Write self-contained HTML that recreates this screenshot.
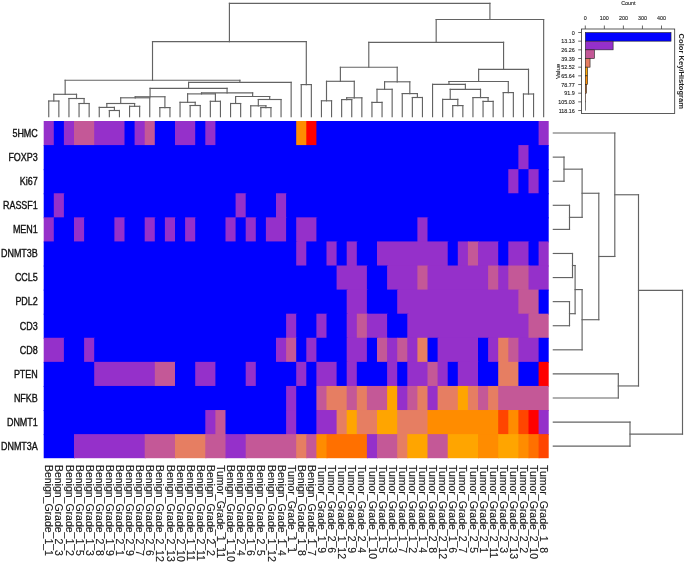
<!DOCTYPE html>
<html><head><meta charset="utf-8"><title>Heatmap</title>
<style>
html,body{margin:0;padding:0;background:#fff;}
body{width:685px;height:563px;overflow:hidden;}
svg{display:block;}
text{font-family:"Liberation Sans",Arial,sans-serif;}
</style></head><body>
<svg width="685" height="563" viewBox="0 0 685 563">
<g shape-rendering="auto">
<rect x="43.7" y="121" width="11.1" height="25.09" fill="#9530CA"/>
<rect x="53.8" y="121" width="11.1" height="25.09" fill="#0000FF"/>
<rect x="63.9" y="121" width="11.1" height="25.09" fill="#9530CA"/>
<rect x="74" y="121" width="21.2" height="25.09" fill="#C45897"/>
<rect x="94.2" y="121" width="31.3" height="25.09" fill="#9530CA"/>
<rect x="124.5" y="121" width="11.1" height="25.09" fill="#0000FF"/>
<rect x="134.6" y="121" width="11.1" height="25.09" fill="#9530CA"/>
<rect x="144.7" y="121" width="11.1" height="25.09" fill="#C45897"/>
<rect x="154.8" y="121" width="21.2" height="25.09" fill="#0000FF"/>
<rect x="175" y="121" width="21.2" height="25.09" fill="#9530CA"/>
<rect x="195.2" y="121" width="11.1" height="25.09" fill="#0000FF"/>
<rect x="205.3" y="121" width="11.1" height="25.09" fill="#9530CA"/>
<rect x="215.4" y="121" width="81.8" height="25.09" fill="#0000FF"/>
<rect x="296.2" y="121" width="11.1" height="25.09" fill="#FF8C00"/>
<rect x="306.3" y="121" width="11.1" height="25.09" fill="#FF0000"/>
<rect x="316.4" y="121" width="223.2" height="25.09" fill="#0000FF"/>
<rect x="538.6" y="121" width="10.1" height="25.09" fill="#9530CA"/>
<rect x="43.7" y="145.09" width="475.7" height="25.09" fill="#0000FF"/>
<rect x="518.4" y="145.09" width="11.1" height="25.09" fill="#9530CA"/>
<rect x="528.5" y="145.09" width="20.2" height="25.09" fill="#0000FF"/>
<rect x="43.7" y="169.17" width="465.6" height="25.09" fill="#0000FF"/>
<rect x="508.3" y="169.17" width="11.1" height="25.09" fill="#9530CA"/>
<rect x="518.4" y="169.17" width="11.1" height="25.09" fill="#0000FF"/>
<rect x="528.5" y="169.17" width="11.1" height="25.09" fill="#9530CA"/>
<rect x="538.6" y="169.17" width="10.1" height="25.09" fill="#0000FF"/>
<rect x="43.7" y="193.26" width="11.1" height="25.09" fill="#0000FF"/>
<rect x="53.8" y="193.26" width="11.1" height="25.09" fill="#9530CA"/>
<rect x="63.9" y="193.26" width="172.7" height="25.09" fill="#0000FF"/>
<rect x="235.6" y="193.26" width="11.1" height="25.09" fill="#9530CA"/>
<rect x="245.7" y="193.26" width="31.3" height="25.09" fill="#0000FF"/>
<rect x="276" y="193.26" width="11.1" height="25.09" fill="#9530CA"/>
<rect x="286.1" y="193.26" width="262.6" height="25.09" fill="#0000FF"/>
<rect x="43.7" y="217.34" width="11.1" height="25.09" fill="#9530CA"/>
<rect x="53.8" y="217.34" width="21.2" height="25.09" fill="#0000FF"/>
<rect x="74" y="217.34" width="11.1" height="25.09" fill="#9530CA"/>
<rect x="84.1" y="217.34" width="31.3" height="25.09" fill="#0000FF"/>
<rect x="114.4" y="217.34" width="11.1" height="25.09" fill="#9530CA"/>
<rect x="124.5" y="217.34" width="21.2" height="25.09" fill="#0000FF"/>
<rect x="144.7" y="217.34" width="11.1" height="25.09" fill="#9530CA"/>
<rect x="154.8" y="217.34" width="11.1" height="25.09" fill="#0000FF"/>
<rect x="164.9" y="217.34" width="11.1" height="25.09" fill="#9530CA"/>
<rect x="175" y="217.34" width="11.1" height="25.09" fill="#0000FF"/>
<rect x="185.1" y="217.34" width="11.1" height="25.09" fill="#9530CA"/>
<rect x="195.2" y="217.34" width="31.3" height="25.09" fill="#0000FF"/>
<rect x="225.5" y="217.34" width="11.1" height="25.09" fill="#9530CA"/>
<rect x="235.6" y="217.34" width="11.1" height="25.09" fill="#0000FF"/>
<rect x="245.7" y="217.34" width="11.1" height="25.09" fill="#9530CA"/>
<rect x="255.8" y="217.34" width="11.1" height="25.09" fill="#0000FF"/>
<rect x="265.9" y="217.34" width="21.2" height="25.09" fill="#9530CA"/>
<rect x="286.1" y="217.34" width="11.1" height="25.09" fill="#0000FF"/>
<rect x="296.2" y="217.34" width="21.2" height="25.09" fill="#9530CA"/>
<rect x="316.4" y="217.34" width="102" height="25.09" fill="#0000FF"/>
<rect x="417.4" y="217.34" width="11.1" height="25.09" fill="#9530CA"/>
<rect x="427.5" y="217.34" width="121.2" height="25.09" fill="#0000FF"/>
<rect x="43.7" y="241.43" width="253.5" height="25.09" fill="#0000FF"/>
<rect x="296.2" y="241.43" width="11.1" height="25.09" fill="#9530CA"/>
<rect x="306.3" y="241.43" width="21.2" height="25.09" fill="#0000FF"/>
<rect x="326.5" y="241.43" width="11.1" height="25.09" fill="#9530CA"/>
<rect x="336.6" y="241.43" width="11.1" height="25.09" fill="#0000FF"/>
<rect x="346.7" y="241.43" width="11.1" height="25.09" fill="#9530CA"/>
<rect x="356.8" y="241.43" width="21.2" height="25.09" fill="#0000FF"/>
<rect x="377" y="241.43" width="71.7" height="25.09" fill="#9530CA"/>
<rect x="447.7" y="241.43" width="11.1" height="25.09" fill="#0000FF"/>
<rect x="457.8" y="241.43" width="11.1" height="25.09" fill="#9530CA"/>
<rect x="467.9" y="241.43" width="11.1" height="25.09" fill="#C45897"/>
<rect x="478" y="241.43" width="21.2" height="25.09" fill="#9530CA"/>
<rect x="498.2" y="241.43" width="11.1" height="25.09" fill="#0000FF"/>
<rect x="508.3" y="241.43" width="21.2" height="25.09" fill="#9530CA"/>
<rect x="528.5" y="241.43" width="11.1" height="25.09" fill="#0000FF"/>
<rect x="538.6" y="241.43" width="10.1" height="25.09" fill="#9530CA"/>
<rect x="43.7" y="265.52" width="293.9" height="25.09" fill="#0000FF"/>
<rect x="336.6" y="265.52" width="31.3" height="25.09" fill="#9530CA"/>
<rect x="366.9" y="265.52" width="21.2" height="25.09" fill="#0000FF"/>
<rect x="387.1" y="265.52" width="31.3" height="25.09" fill="#9530CA"/>
<rect x="417.4" y="265.52" width="11.1" height="25.09" fill="#C45897"/>
<rect x="427.5" y="265.52" width="61.6" height="25.09" fill="#9530CA"/>
<rect x="488.1" y="265.52" width="11.1" height="25.09" fill="#C45897"/>
<rect x="498.2" y="265.52" width="11.1" height="25.09" fill="#9530CA"/>
<rect x="508.3" y="265.52" width="21.2" height="25.09" fill="#C45897"/>
<rect x="528.5" y="265.52" width="20.2" height="25.09" fill="#9530CA"/>
<rect x="43.7" y="289.6" width="304" height="25.09" fill="#0000FF"/>
<rect x="346.7" y="289.6" width="21.2" height="25.09" fill="#9530CA"/>
<rect x="366.9" y="289.6" width="31.3" height="25.09" fill="#0000FF"/>
<rect x="397.2" y="289.6" width="122.2" height="25.09" fill="#9530CA"/>
<rect x="518.4" y="289.6" width="21.2" height="25.09" fill="#C45897"/>
<rect x="538.6" y="289.6" width="10.1" height="25.09" fill="#0000FF"/>
<rect x="43.7" y="313.69" width="243.4" height="25.09" fill="#0000FF"/>
<rect x="286.1" y="313.69" width="11.1" height="25.09" fill="#9530CA"/>
<rect x="296.2" y="313.69" width="21.2" height="25.09" fill="#0000FF"/>
<rect x="316.4" y="313.69" width="11.1" height="25.09" fill="#9530CA"/>
<rect x="326.5" y="313.69" width="21.2" height="25.09" fill="#0000FF"/>
<rect x="346.7" y="313.69" width="11.1" height="25.09" fill="#9530CA"/>
<rect x="356.8" y="313.69" width="11.1" height="25.09" fill="#C45897"/>
<rect x="366.9" y="313.69" width="21.2" height="25.09" fill="#9530CA"/>
<rect x="387.1" y="313.69" width="21.2" height="25.09" fill="#0000FF"/>
<rect x="407.3" y="313.69" width="122.2" height="25.09" fill="#9530CA"/>
<rect x="528.5" y="313.69" width="20.2" height="25.09" fill="#C45897"/>
<rect x="43.7" y="337.77" width="21.2" height="25.09" fill="#9530CA"/>
<rect x="63.9" y="337.77" width="21.2" height="25.09" fill="#0000FF"/>
<rect x="84.1" y="337.77" width="11.1" height="25.09" fill="#9530CA"/>
<rect x="94.2" y="337.77" width="182.8" height="25.09" fill="#0000FF"/>
<rect x="276" y="337.77" width="11.1" height="25.09" fill="#9530CA"/>
<rect x="286.1" y="337.77" width="11.1" height="25.09" fill="#C45897"/>
<rect x="296.2" y="337.77" width="11.1" height="25.09" fill="#0000FF"/>
<rect x="306.3" y="337.77" width="11.1" height="25.09" fill="#9530CA"/>
<rect x="316.4" y="337.77" width="31.3" height="25.09" fill="#0000FF"/>
<rect x="346.7" y="337.77" width="21.2" height="25.09" fill="#9530CA"/>
<rect x="366.9" y="337.77" width="11.1" height="25.09" fill="#0000FF"/>
<rect x="377" y="337.77" width="11.1" height="25.09" fill="#C45897"/>
<rect x="387.1" y="337.77" width="11.1" height="25.09" fill="#9530CA"/>
<rect x="397.2" y="337.77" width="11.1" height="25.09" fill="#C45897"/>
<rect x="407.3" y="337.77" width="11.1" height="25.09" fill="#9530CA"/>
<rect x="417.4" y="337.77" width="11.1" height="25.09" fill="#E67E62"/>
<rect x="427.5" y="337.77" width="11.1" height="25.09" fill="#0000FF"/>
<rect x="437.6" y="337.77" width="41.4" height="25.09" fill="#9530CA"/>
<rect x="478" y="337.77" width="11.1" height="25.09" fill="#0000FF"/>
<rect x="488.1" y="337.77" width="11.1" height="25.09" fill="#9530CA"/>
<rect x="498.2" y="337.77" width="11.1" height="25.09" fill="#E67E62"/>
<rect x="508.3" y="337.77" width="11.1" height="25.09" fill="#C45897"/>
<rect x="518.4" y="337.77" width="21.2" height="25.09" fill="#9530CA"/>
<rect x="538.6" y="337.77" width="10.1" height="25.09" fill="#0000FF"/>
<rect x="43.7" y="361.86" width="51.5" height="25.09" fill="#0000FF"/>
<rect x="94.2" y="361.86" width="61.6" height="25.09" fill="#9530CA"/>
<rect x="154.8" y="361.86" width="21.2" height="25.09" fill="#C45897"/>
<rect x="175" y="361.86" width="21.2" height="25.09" fill="#0000FF"/>
<rect x="195.2" y="361.86" width="21.2" height="25.09" fill="#9530CA"/>
<rect x="215.4" y="361.86" width="31.3" height="25.09" fill="#0000FF"/>
<rect x="245.7" y="361.86" width="11.1" height="25.09" fill="#9530CA"/>
<rect x="255.8" y="361.86" width="41.4" height="25.09" fill="#0000FF"/>
<rect x="296.2" y="361.86" width="11.1" height="25.09" fill="#9530CA"/>
<rect x="306.3" y="361.86" width="11.1" height="25.09" fill="#0000FF"/>
<rect x="316.4" y="361.86" width="21.2" height="25.09" fill="#9530CA"/>
<rect x="336.6" y="361.86" width="11.1" height="25.09" fill="#0000FF"/>
<rect x="346.7" y="361.86" width="11.1" height="25.09" fill="#9530CA"/>
<rect x="356.8" y="361.86" width="31.3" height="25.09" fill="#0000FF"/>
<rect x="387.1" y="361.86" width="11.1" height="25.09" fill="#9530CA"/>
<rect x="397.2" y="361.86" width="11.1" height="25.09" fill="#0000FF"/>
<rect x="407.3" y="361.86" width="21.2" height="25.09" fill="#9530CA"/>
<rect x="427.5" y="361.86" width="11.1" height="25.09" fill="#C45897"/>
<rect x="437.6" y="361.86" width="11.1" height="25.09" fill="#9530CA"/>
<rect x="447.7" y="361.86" width="11.1" height="25.09" fill="#0000FF"/>
<rect x="457.8" y="361.86" width="21.2" height="25.09" fill="#9530CA"/>
<rect x="478" y="361.86" width="21.2" height="25.09" fill="#0000FF"/>
<rect x="498.2" y="361.86" width="21.2" height="25.09" fill="#E67E62"/>
<rect x="518.4" y="361.86" width="21.2" height="25.09" fill="#0000FF"/>
<rect x="538.6" y="361.86" width="10.1" height="25.09" fill="#FF0000"/>
<rect x="43.7" y="385.95" width="243.4" height="25.09" fill="#0000FF"/>
<rect x="286.1" y="385.95" width="11.1" height="25.09" fill="#9530CA"/>
<rect x="296.2" y="385.95" width="21.2" height="25.09" fill="#0000FF"/>
<rect x="316.4" y="385.95" width="11.1" height="25.09" fill="#C45897"/>
<rect x="326.5" y="385.95" width="21.2" height="25.09" fill="#E67E62"/>
<rect x="346.7" y="385.95" width="11.1" height="25.09" fill="#C45897"/>
<rect x="356.8" y="385.95" width="11.1" height="25.09" fill="#E67E62"/>
<rect x="366.9" y="385.95" width="21.2" height="25.09" fill="#C45897"/>
<rect x="387.1" y="385.95" width="11.1" height="25.09" fill="#FFA500"/>
<rect x="397.2" y="385.95" width="11.1" height="25.09" fill="#9530CA"/>
<rect x="407.3" y="385.95" width="11.1" height="25.09" fill="#C45897"/>
<rect x="417.4" y="385.95" width="11.1" height="25.09" fill="#E67E62"/>
<rect x="427.5" y="385.95" width="11.1" height="25.09" fill="#9530CA"/>
<rect x="437.6" y="385.95" width="21.2" height="25.09" fill="#E67E62"/>
<rect x="457.8" y="385.95" width="11.1" height="25.09" fill="#FFA500"/>
<rect x="467.9" y="385.95" width="11.1" height="25.09" fill="#E67E62"/>
<rect x="478" y="385.95" width="11.1" height="25.09" fill="#C45897"/>
<rect x="488.1" y="385.95" width="11.1" height="25.09" fill="#E67E62"/>
<rect x="498.2" y="385.95" width="50.5" height="25.09" fill="#C45897"/>
<rect x="43.7" y="410.03" width="162.6" height="25.09" fill="#0000FF"/>
<rect x="205.3" y="410.03" width="11.1" height="25.09" fill="#9530CA"/>
<rect x="215.4" y="410.03" width="11.1" height="25.09" fill="#C45897"/>
<rect x="225.5" y="410.03" width="61.6" height="25.09" fill="#0000FF"/>
<rect x="286.1" y="410.03" width="11.1" height="25.09" fill="#9530CA"/>
<rect x="296.2" y="410.03" width="21.2" height="25.09" fill="#0000FF"/>
<rect x="316.4" y="410.03" width="21.2" height="25.09" fill="#9530CA"/>
<rect x="336.6" y="410.03" width="11.1" height="25.09" fill="#E67E62"/>
<rect x="346.7" y="410.03" width="11.1" height="25.09" fill="#FFA500"/>
<rect x="356.8" y="410.03" width="21.2" height="25.09" fill="#E67E62"/>
<rect x="377" y="410.03" width="21.2" height="25.09" fill="#FFA500"/>
<rect x="397.2" y="410.03" width="31.3" height="25.09" fill="#E67E62"/>
<rect x="427.5" y="410.03" width="71.7" height="25.09" fill="#FF8C00"/>
<rect x="498.2" y="410.03" width="11.1" height="25.09" fill="#FF4500"/>
<rect x="508.3" y="410.03" width="11.1" height="25.09" fill="#FF8C00"/>
<rect x="518.4" y="410.03" width="11.1" height="25.09" fill="#FF4500"/>
<rect x="528.5" y="410.03" width="11.1" height="25.09" fill="#FF0000"/>
<rect x="538.6" y="410.03" width="10.1" height="25.09" fill="#9530CA"/>
<rect x="43.7" y="434.12" width="31.3" height="24.09" fill="#0000FF"/>
<rect x="74" y="434.12" width="71.7" height="24.09" fill="#9530CA"/>
<rect x="144.7" y="434.12" width="31.3" height="24.09" fill="#C45897"/>
<rect x="175" y="434.12" width="31.3" height="24.09" fill="#E67E62"/>
<rect x="205.3" y="434.12" width="21.2" height="24.09" fill="#C45897"/>
<rect x="225.5" y="434.12" width="21.2" height="24.09" fill="#9530CA"/>
<rect x="245.7" y="434.12" width="51.5" height="24.09" fill="#C45897"/>
<rect x="296.2" y="434.12" width="11.1" height="24.09" fill="#E67E62"/>
<rect x="306.3" y="434.12" width="11.1" height="24.09" fill="#C45897"/>
<rect x="316.4" y="434.12" width="11.1" height="24.09" fill="#FF8C00"/>
<rect x="326.5" y="434.12" width="41.4" height="24.09" fill="#FF7000"/>
<rect x="366.9" y="434.12" width="11.1" height="24.09" fill="#9530CA"/>
<rect x="377" y="434.12" width="21.2" height="24.09" fill="#C45897"/>
<rect x="397.2" y="434.12" width="11.1" height="24.09" fill="#E67E62"/>
<rect x="407.3" y="434.12" width="21.2" height="24.09" fill="#FFA500"/>
<rect x="427.5" y="434.12" width="21.2" height="24.09" fill="#C45897"/>
<rect x="447.7" y="434.12" width="31.3" height="24.09" fill="#FFA500"/>
<rect x="478" y="434.12" width="21.2" height="24.09" fill="#FF8C00"/>
<rect x="498.2" y="434.12" width="21.2" height="24.09" fill="#FFA500"/>
<rect x="518.4" y="434.12" width="11.1" height="24.09" fill="#FF8C00"/>
<rect x="528.5" y="434.12" width="11.1" height="24.09" fill="#FF7000"/>
<rect x="538.6" y="434.12" width="10.1" height="24.09" fill="#FF4500"/>
</g>
<g stroke="#636363" stroke-width="1.15" fill="none" stroke-linecap="square">
<line x1="48.75" y1="116.7" x2="48.75" y2="101"/>
<line x1="48.75" y1="101" x2="58.85" y2="101"/>
<line x1="58.85" y1="101" x2="58.85" y2="116.7"/>
<line x1="79.05" y1="116.7" x2="79.05" y2="103.5"/>
<line x1="79.05" y1="103.5" x2="89.15" y2="103.5"/>
<line x1="89.15" y1="103.5" x2="89.15" y2="116.7"/>
<line x1="68.95" y1="116.7" x2="68.95" y2="98.5"/>
<line x1="68.95" y1="98.5" x2="84.1" y2="98.5"/>
<line x1="84.1" y1="98.5" x2="84.1" y2="103.5"/>
<line x1="53.8" y1="101" x2="53.8" y2="94.3"/>
<line x1="53.8" y1="94.3" x2="76.53" y2="94.3"/>
<line x1="76.53" y1="94.3" x2="76.53" y2="98.5"/>
<line x1="109.35" y1="116.7" x2="109.35" y2="110.5"/>
<line x1="109.35" y1="110.5" x2="119.45" y2="110.5"/>
<line x1="119.45" y1="110.5" x2="119.45" y2="116.7"/>
<line x1="99.25" y1="116.7" x2="99.25" y2="107.4"/>
<line x1="99.25" y1="107.4" x2="114.4" y2="107.4"/>
<line x1="114.4" y1="107.4" x2="114.4" y2="110.5"/>
<line x1="129.55" y1="116.7" x2="129.55" y2="106.3"/>
<line x1="129.55" y1="106.3" x2="139.65" y2="106.3"/>
<line x1="139.65" y1="106.3" x2="139.65" y2="116.7"/>
<line x1="106.83" y1="107.4" x2="106.83" y2="103.5"/>
<line x1="106.83" y1="103.5" x2="134.6" y2="103.5"/>
<line x1="134.6" y1="103.5" x2="134.6" y2="106.3"/>
<line x1="120.71" y1="103.5" x2="120.71" y2="97.8"/>
<line x1="120.71" y1="97.8" x2="149.75" y2="97.8"/>
<line x1="149.75" y1="97.8" x2="149.75" y2="116.7"/>
<line x1="159.85" y1="116.7" x2="159.85" y2="107.6"/>
<line x1="159.85" y1="107.6" x2="169.95" y2="107.6"/>
<line x1="169.95" y1="107.6" x2="169.95" y2="116.7"/>
<line x1="135.23" y1="97.8" x2="135.23" y2="96.75"/>
<line x1="135.23" y1="96.75" x2="164.9" y2="96.75"/>
<line x1="164.9" y1="96.75" x2="164.9" y2="107.6"/>
<line x1="190.15" y1="116.7" x2="190.15" y2="105.5"/>
<line x1="190.15" y1="105.5" x2="200.25" y2="105.5"/>
<line x1="200.25" y1="105.5" x2="200.25" y2="116.7"/>
<line x1="180.05" y1="116.7" x2="180.05" y2="102.3"/>
<line x1="180.05" y1="102.3" x2="195.2" y2="102.3"/>
<line x1="195.2" y1="102.3" x2="195.2" y2="105.5"/>
<line x1="210.35" y1="116.7" x2="210.35" y2="101.3"/>
<line x1="210.35" y1="101.3" x2="220.45" y2="101.3"/>
<line x1="220.45" y1="101.3" x2="220.45" y2="116.7"/>
<line x1="187.62" y1="102.3" x2="187.62" y2="93.9"/>
<line x1="187.62" y1="93.9" x2="215.4" y2="93.9"/>
<line x1="215.4" y1="93.9" x2="215.4" y2="101.3"/>
<line x1="230.55" y1="116.7" x2="230.55" y2="103.5"/>
<line x1="230.55" y1="103.5" x2="240.65" y2="103.5"/>
<line x1="240.65" y1="103.5" x2="240.65" y2="116.7"/>
<line x1="260.85" y1="116.7" x2="260.85" y2="107.6"/>
<line x1="260.85" y1="107.6" x2="270.95" y2="107.6"/>
<line x1="270.95" y1="107.6" x2="270.95" y2="116.7"/>
<line x1="250.75" y1="116.7" x2="250.75" y2="105.8"/>
<line x1="250.75" y1="105.8" x2="265.9" y2="105.8"/>
<line x1="265.9" y1="105.8" x2="265.9" y2="107.6"/>
<line x1="258.32" y1="105.8" x2="258.32" y2="99.5"/>
<line x1="258.32" y1="99.5" x2="281.05" y2="99.5"/>
<line x1="281.05" y1="99.5" x2="281.05" y2="116.7"/>
<line x1="235.6" y1="103.5" x2="235.6" y2="96.5"/>
<line x1="235.6" y1="96.5" x2="269.69" y2="96.5"/>
<line x1="269.69" y1="96.5" x2="269.69" y2="99.5"/>
<line x1="201.51" y1="93.9" x2="201.51" y2="92.9"/>
<line x1="201.51" y1="92.9" x2="252.64" y2="92.9"/>
<line x1="252.64" y1="92.9" x2="252.64" y2="96.5"/>
<line x1="150.07" y1="96.75" x2="150.07" y2="88.3"/>
<line x1="150.07" y1="88.3" x2="227.08" y2="88.3"/>
<line x1="227.08" y1="88.3" x2="227.08" y2="92.9"/>
<line x1="188.57" y1="88.3" x2="188.57" y2="82.4"/>
<line x1="188.57" y1="82.4" x2="291.15" y2="82.4"/>
<line x1="291.15" y1="82.4" x2="291.15" y2="116.7"/>
<line x1="65.16" y1="94.3" x2="65.16" y2="80.25"/>
<line x1="65.16" y1="80.25" x2="239.86" y2="80.25"/>
<line x1="239.86" y1="80.25" x2="239.86" y2="82.4"/>
<line x1="301.25" y1="116.7" x2="301.25" y2="84.6"/>
<line x1="301.25" y1="84.6" x2="311.35" y2="84.6"/>
<line x1="311.35" y1="84.6" x2="311.35" y2="116.7"/>
<line x1="152.51" y1="80.25" x2="152.51" y2="41.6"/>
<line x1="152.51" y1="41.6" x2="306.3" y2="41.6"/>
<line x1="306.3" y1="41.6" x2="306.3" y2="84.6"/>
<line x1="321.45" y1="116.7" x2="321.45" y2="100.8"/>
<line x1="321.45" y1="100.8" x2="331.55" y2="100.8"/>
<line x1="331.55" y1="100.8" x2="331.55" y2="116.7"/>
<line x1="341.65" y1="116.7" x2="341.65" y2="99.6"/>
<line x1="341.65" y1="99.6" x2="351.75" y2="99.6"/>
<line x1="351.75" y1="99.6" x2="351.75" y2="116.7"/>
<line x1="346.7" y1="99.6" x2="346.7" y2="97.8"/>
<line x1="346.7" y1="97.8" x2="361.85" y2="97.8"/>
<line x1="361.85" y1="97.8" x2="361.85" y2="116.7"/>
<line x1="326.5" y1="100.8" x2="326.5" y2="81.3"/>
<line x1="326.5" y1="81.3" x2="354.27" y2="81.3"/>
<line x1="354.27" y1="81.3" x2="354.27" y2="97.8"/>
<line x1="371.95" y1="116.7" x2="371.95" y2="102.4"/>
<line x1="371.95" y1="102.4" x2="382.05" y2="102.4"/>
<line x1="382.05" y1="102.4" x2="382.05" y2="116.7"/>
<line x1="377" y1="102.4" x2="377" y2="89.3"/>
<line x1="377" y1="89.3" x2="392.15" y2="89.3"/>
<line x1="392.15" y1="89.3" x2="392.15" y2="116.7"/>
<line x1="412.35" y1="116.7" x2="412.35" y2="97.5"/>
<line x1="412.35" y1="97.5" x2="422.45" y2="97.5"/>
<line x1="422.45" y1="97.5" x2="422.45" y2="116.7"/>
<line x1="402.25" y1="116.7" x2="402.25" y2="93.6"/>
<line x1="402.25" y1="93.6" x2="417.4" y2="93.6"/>
<line x1="417.4" y1="93.6" x2="417.4" y2="97.5"/>
<line x1="384.57" y1="89.3" x2="384.57" y2="81.8"/>
<line x1="384.57" y1="81.8" x2="409.82" y2="81.8"/>
<line x1="409.82" y1="81.8" x2="409.82" y2="93.6"/>
<line x1="340.39" y1="81.3" x2="340.39" y2="67.2"/>
<line x1="340.39" y1="67.2" x2="397.2" y2="67.2"/>
<line x1="397.2" y1="67.2" x2="397.2" y2="81.8"/>
<line x1="452.75" y1="116.7" x2="452.75" y2="105.6"/>
<line x1="452.75" y1="105.6" x2="462.85" y2="105.6"/>
<line x1="462.85" y1="105.6" x2="462.85" y2="116.7"/>
<line x1="442.65" y1="116.7" x2="442.65" y2="99.4"/>
<line x1="442.65" y1="99.4" x2="457.8" y2="99.4"/>
<line x1="457.8" y1="99.4" x2="457.8" y2="105.6"/>
<line x1="483.05" y1="116.7" x2="483.05" y2="101.4"/>
<line x1="483.05" y1="101.4" x2="493.15" y2="101.4"/>
<line x1="493.15" y1="101.4" x2="493.15" y2="116.7"/>
<line x1="472.95" y1="116.7" x2="472.95" y2="97.6"/>
<line x1="472.95" y1="97.6" x2="488.1" y2="97.6"/>
<line x1="488.1" y1="97.6" x2="488.1" y2="101.4"/>
<line x1="450.22" y1="99.4" x2="450.22" y2="89.3"/>
<line x1="450.22" y1="89.3" x2="480.52" y2="89.3"/>
<line x1="480.52" y1="89.3" x2="480.52" y2="97.6"/>
<line x1="432.55" y1="116.7" x2="432.55" y2="84.3"/>
<line x1="432.55" y1="84.3" x2="465.38" y2="84.3"/>
<line x1="465.38" y1="84.3" x2="465.38" y2="89.3"/>
<line x1="503.25" y1="116.7" x2="503.25" y2="92.6"/>
<line x1="503.25" y1="92.6" x2="513.35" y2="92.6"/>
<line x1="513.35" y1="92.6" x2="513.35" y2="116.7"/>
<line x1="448.96" y1="84.3" x2="448.96" y2="81.5"/>
<line x1="448.96" y1="81.5" x2="508.3" y2="81.5"/>
<line x1="508.3" y1="81.5" x2="508.3" y2="92.6"/>
<line x1="523.45" y1="116.7" x2="523.45" y2="94"/>
<line x1="523.45" y1="94" x2="533.55" y2="94"/>
<line x1="533.55" y1="94" x2="533.55" y2="116.7"/>
<line x1="478.63" y1="81.5" x2="478.63" y2="69.3"/>
<line x1="478.63" y1="69.3" x2="528.5" y2="69.3"/>
<line x1="528.5" y1="69.3" x2="528.5" y2="94"/>
<line x1="368.79" y1="67.2" x2="368.79" y2="42.3"/>
<line x1="368.79" y1="42.3" x2="503.57" y2="42.3"/>
<line x1="503.57" y1="42.3" x2="503.57" y2="69.3"/>
<line x1="436.18" y1="42.3" x2="436.18" y2="19.5"/>
<line x1="436.18" y1="19.5" x2="543.65" y2="19.5"/>
<line x1="543.65" y1="19.5" x2="543.65" y2="116.7"/>
<line x1="229.41" y1="41.6" x2="229.41" y2="3.3"/>
<line x1="229.41" y1="3.3" x2="489.91" y2="3.3"/>
<line x1="489.91" y1="3.3" x2="489.91" y2="19.5"/>
<line x1="553.3" y1="157.13" x2="564" y2="157.13"/>
<line x1="564" y1="157.13" x2="564" y2="181.22"/>
<line x1="553.3" y1="181.22" x2="564" y2="181.22"/>
<line x1="553.3" y1="205.3" x2="569.5" y2="205.3"/>
<line x1="569.5" y1="205.3" x2="569.5" y2="229.39"/>
<line x1="553.3" y1="229.39" x2="569.5" y2="229.39"/>
<line x1="564" y1="169.17" x2="582.1" y2="169.17"/>
<line x1="582.1" y1="169.17" x2="582.1" y2="217.34"/>
<line x1="569.5" y1="217.34" x2="582.1" y2="217.34"/>
<line x1="553.3" y1="253.47" x2="572.5" y2="253.47"/>
<line x1="572.5" y1="253.47" x2="572.5" y2="277.56"/>
<line x1="553.3" y1="277.56" x2="572.5" y2="277.56"/>
<line x1="553.3" y1="301.64" x2="569.5" y2="301.64"/>
<line x1="569.5" y1="301.64" x2="569.5" y2="325.73"/>
<line x1="553.3" y1="325.73" x2="569.5" y2="325.73"/>
<line x1="572.5" y1="265.52" x2="575.1" y2="265.52"/>
<line x1="575.1" y1="265.52" x2="575.1" y2="313.69"/>
<line x1="569.5" y1="313.69" x2="575.1" y2="313.69"/>
<line x1="575.1" y1="289.6" x2="582.1" y2="289.6"/>
<line x1="582.1" y1="289.6" x2="582.1" y2="349.82"/>
<line x1="553.3" y1="349.82" x2="582.1" y2="349.82"/>
<line x1="582.1" y1="193.26" x2="598.8" y2="193.26"/>
<line x1="598.8" y1="193.26" x2="598.8" y2="319.71"/>
<line x1="582.1" y1="319.71" x2="598.8" y2="319.71"/>
<line x1="553.3" y1="133.04" x2="614.8" y2="133.04"/>
<line x1="614.8" y1="133.04" x2="614.8" y2="256.48"/>
<line x1="598.8" y1="256.48" x2="614.8" y2="256.48"/>
<line x1="553.3" y1="373.9" x2="618.3" y2="373.9"/>
<line x1="618.3" y1="373.9" x2="618.3" y2="397.99"/>
<line x1="553.3" y1="397.99" x2="618.3" y2="397.99"/>
<line x1="614.8" y1="194.76" x2="638.5" y2="194.76"/>
<line x1="638.5" y1="194.76" x2="638.5" y2="385.95"/>
<line x1="618.3" y1="385.95" x2="638.5" y2="385.95"/>
<line x1="553.3" y1="422.07" x2="630" y2="422.07"/>
<line x1="630" y1="422.07" x2="630" y2="446.16"/>
<line x1="553.3" y1="446.16" x2="630" y2="446.16"/>
<line x1="638.5" y1="290.35" x2="682.5" y2="290.35"/>
<line x1="682.5" y1="290.35" x2="682.5" y2="434.12"/>
<line x1="630" y1="434.12" x2="682.5" y2="434.12"/>
</g>
<g font-size="10.2" fill="#111" stroke="#111" stroke-width="0.35" text-anchor="end">
<text transform="translate(37.8,136.84) scale(0.88,1)">5HMC</text>
<text transform="translate(37.8,160.93) scale(0.88,1)">FOXP3</text>
<text transform="translate(37.8,185.02) scale(0.88,1)">Ki67</text>
<text transform="translate(37.8,209.1) scale(0.88,1)">RASSF1</text>
<text transform="translate(37.8,233.19) scale(0.88,1)">MEN1</text>
<text transform="translate(37.8,257.27) scale(0.88,1)">DNMT3B</text>
<text transform="translate(37.8,281.36) scale(0.88,1)">CCL5</text>
<text transform="translate(37.8,305.44) scale(0.88,1)">PDL2</text>
<text transform="translate(37.8,329.53) scale(0.88,1)">CD3</text>
<text transform="translate(37.8,353.62) scale(0.88,1)">CD8</text>
<text transform="translate(37.8,377.7) scale(0.88,1)">PTEN</text>
<text transform="translate(37.8,401.79) scale(0.88,1)">NFKB</text>
<text transform="translate(37.8,425.88) scale(0.88,1)">DNMT1</text>
<text transform="translate(37.8,449.96) scale(0.88,1)">DNMT3A</text>
</g>
<g font-size="10.5" fill="#1a1a1a" stroke="#1a1a1a" stroke-width="0.15">
<text transform="translate(45.35,464.9) rotate(90) scale(1,0.96)">Benign_Grade_1_1</text>
<text transform="translate(55.45,464.9) rotate(90) scale(1,0.96)">Benign_Grade_2_3</text>
<text transform="translate(65.55,464.9) rotate(90) scale(1,0.96)">Benign_Grade_1_2</text>
<text transform="translate(75.65,464.9) rotate(90) scale(1,0.96)">Benign_Grade_1_5</text>
<text transform="translate(85.75,464.9) rotate(90) scale(1,0.96)">Benign_Grade_1_3</text>
<text transform="translate(95.85,464.9) rotate(90) scale(1,0.96)">Benign_Grade_2_8</text>
<text transform="translate(105.95,464.9) rotate(90) scale(1,0.96)">Benign_Grade_1_9</text>
<text transform="translate(116.05,464.9) rotate(90) scale(1,0.96)">Benign_Grade_2_1</text>
<text transform="translate(126.15,464.9) rotate(90) scale(1,0.96)">Benign_Grade_2_9</text>
<text transform="translate(136.25,464.9) rotate(90) scale(1,0.96)">Benign_Grade_2_7</text>
<text transform="translate(146.35,464.9) rotate(90) scale(1,0.96)">Benign_Grade_2_6</text>
<text transform="translate(156.45,464.9) rotate(90) scale(1,0.96)">Benign_Grade_2_12</text>
<text transform="translate(166.55,464.9) rotate(90) scale(1,0.96)">Benign_Grade_2_13</text>
<text transform="translate(176.65,464.9) rotate(90) scale(1,0.96)">Benign_Grade_2_10</text>
<text transform="translate(186.75,464.9) rotate(90) scale(1,0.96)">Benign_Grade_1_11</text>
<text transform="translate(196.85,464.9) rotate(90) scale(1,0.96)">Benign_Grade_2_11</text>
<text transform="translate(206.95,464.9) rotate(90) scale(1,0.96)">Benign_Grade_2_2</text>
<text transform="translate(217.05,464.9) rotate(90) scale(1,0.96)">Tumor_Grade_1_11</text>
<text transform="translate(227.15,464.9) rotate(90) scale(1,0.96)">Benign_Grade_1_10</text>
<text transform="translate(237.25,464.9) rotate(90) scale(1,0.96)">Benign_Grade_2_4</text>
<text transform="translate(247.35,464.9) rotate(90) scale(1,0.96)">Benign_Grade_1_6</text>
<text transform="translate(257.45,464.9) rotate(90) scale(1,0.96)">Benign_Grade_2_5</text>
<text transform="translate(267.55,464.9) rotate(90) scale(1,0.96)">Benign_Grade_1_12</text>
<text transform="translate(277.65,464.9) rotate(90) scale(1,0.96)">Benign_Grade_1_4</text>
<text transform="translate(287.75,464.9) rotate(90) scale(1,0.96)">Tumor_Grade_1_1</text>
<text transform="translate(297.85,464.9) rotate(90) scale(1,0.96)">Benign_Grade_1_8</text>
<text transform="translate(307.95,464.9) rotate(90) scale(1,0.96)">Benign_Grade_1_7</text>
<text transform="translate(318.05,464.9) rotate(90) scale(1,0.96)">Tumor_Grade_1_9</text>
<text transform="translate(328.15,464.9) rotate(90) scale(1,0.96)">Tumor_Grade_2_6</text>
<text transform="translate(338.25,464.9) rotate(90) scale(1,0.96)">Tumor_Grade_1_12</text>
<text transform="translate(348.35,464.9) rotate(90) scale(1,0.96)">Tumor_Grade_2_9</text>
<text transform="translate(358.45,464.9) rotate(90) scale(1,0.96)">Tumor_Grade_2_4</text>
<text transform="translate(368.55,464.9) rotate(90) scale(1,0.96)">Tumor_Grade_1_10</text>
<text transform="translate(378.65,464.9) rotate(90) scale(1,0.96)">Tumor_Grade_1_5</text>
<text transform="translate(388.75,464.9) rotate(90) scale(1,0.96)">Tumor_Grade_1_3</text>
<text transform="translate(398.85,464.9) rotate(90) scale(1,0.96)">Tumor_Grade_1_7</text>
<text transform="translate(408.95,464.9) rotate(90) scale(1,0.96)">Tumor_Grade_1_2</text>
<text transform="translate(419.05,464.9) rotate(90) scale(1,0.96)">Tumor_Grade_1_4</text>
<text transform="translate(429.15,464.9) rotate(90) scale(1,0.96)">Tumor_Grade_2_8</text>
<text transform="translate(439.25,464.9) rotate(90) scale(1,0.96)">Tumor_Grade_2_12</text>
<text transform="translate(449.35,464.9) rotate(90) scale(1,0.96)">Tumor_Grade_1_6</text>
<text transform="translate(459.45,464.9) rotate(90) scale(1,0.96)">Tumor_Grade_2_7</text>
<text transform="translate(469.55,464.9) rotate(90) scale(1,0.96)">Tumor_Grade_2_5</text>
<text transform="translate(479.65,464.9) rotate(90) scale(1,0.96)">Tumor_Grade_2_1</text>
<text transform="translate(489.75,464.9) rotate(90) scale(1,0.96)">Tumor_Grade_2_11</text>
<text transform="translate(499.85,464.9) rotate(90) scale(1,0.96)">Tumor_Grade_2_3</text>
<text transform="translate(509.95,464.9) rotate(90) scale(1,0.96)">Tumor_Grade_2_13</text>
<text transform="translate(520.05,464.9) rotate(90) scale(1,0.96)">Tumor_Grade_2_2</text>
<text transform="translate(530.15,464.9) rotate(90) scale(1,0.96)">Tumor_Grade_2_10</text>
<text transform="translate(540.25,464.9) rotate(90) scale(1,0.96)">Tumor_Grade_1_8</text>
</g>
<g>
<rect x="585.3" y="32.5" width="85.73" height="8.67" fill="#0000FF" stroke="#222" stroke-width="0.6"/>
<rect x="585.3" y="41.17" width="27.81" height="8.67" fill="#9530CA" stroke="#222" stroke-width="0.6"/>
<rect x="585.3" y="49.84" width="9.14" height="8.67" fill="#C45897" stroke="#222" stroke-width="0.6"/>
<rect x="585.3" y="58.51" width="4.76" height="8.67" fill="#E67E62" stroke="#222" stroke-width="0.6"/>
<rect x="585.3" y="67.18" width="2.29" height="8.67" fill="#FFA500" stroke="#222" stroke-width="0.6"/>
<rect x="585.3" y="75.85" width="2.29" height="8.67" fill="#FF8C00" stroke="#222" stroke-width="0.6"/>
<rect x="585.3" y="84.52" width="1.14" height="8.67" fill="#FF7000" stroke="#222" stroke-width="0.6"/>
<rect x="585.3" y="93.19" width="0.19" height="8.67" fill="#FF4500" stroke="#222" stroke-width="0.6"/>
<rect x="585.3" y="101.86" width="0.01" height="8.67" fill="#FF0000" stroke="#222" stroke-width="0.6"/>
</g>
<rect x="581.5" y="29" width="93.2" height="84.5" fill="none" stroke="#333" stroke-width="0.8"/>
<g stroke="#444" stroke-width="0.8">
<line x1="585.3" y1="25.5" x2="585.3" y2="29"/>
<line x1="604.35" y1="25.5" x2="604.35" y2="29"/>
<line x1="623.4" y1="25.5" x2="623.4" y2="29"/>
<line x1="642.45" y1="25.5" x2="642.45" y2="29"/>
<line x1="661.5" y1="25.5" x2="661.5" y2="29"/>
<line x1="578.2" y1="32.5" x2="581.5" y2="32.5"/>
<line x1="578.2" y1="41.17" x2="581.5" y2="41.17"/>
<line x1="578.2" y1="49.84" x2="581.5" y2="49.84"/>
<line x1="578.2" y1="58.51" x2="581.5" y2="58.51"/>
<line x1="578.2" y1="67.18" x2="581.5" y2="67.18"/>
<line x1="578.2" y1="75.85" x2="581.5" y2="75.85"/>
<line x1="578.2" y1="84.52" x2="581.5" y2="84.52"/>
<line x1="578.2" y1="93.19" x2="581.5" y2="93.19"/>
<line x1="578.2" y1="101.86" x2="581.5" y2="101.86"/>
<line x1="578.2" y1="110.53" x2="581.5" y2="110.53"/>
</g>
<g font-size="6.2" fill="#222" stroke="#222" stroke-width="0.12">
<text text-anchor="middle" transform="translate(585.3,20.4) scale(0.87,1)">0</text>
<text text-anchor="middle" transform="translate(604.35,20.4) scale(0.87,1)">100</text>
<text text-anchor="middle" transform="translate(623.4,20.4) scale(0.87,1)">200</text>
<text text-anchor="middle" transform="translate(642.45,20.4) scale(0.87,1)">300</text>
<text text-anchor="middle" transform="translate(661.5,20.4) scale(0.87,1)">400</text>
<text text-anchor="end" transform="translate(574.7,34.7) scale(0.87,1)">0</text>
<text text-anchor="end" transform="translate(574.7,43.37) scale(0.87,1)">13.13</text>
<text text-anchor="end" transform="translate(574.7,52.04) scale(0.87,1)">26.26</text>
<text text-anchor="end" transform="translate(574.7,60.71) scale(0.87,1)">39.39</text>
<text text-anchor="end" transform="translate(574.7,69.38) scale(0.87,1)">52.52</text>
<text text-anchor="end" transform="translate(574.7,78.05) scale(0.87,1)">65.64</text>
<text text-anchor="end" transform="translate(574.7,86.72) scale(0.87,1)">78.77</text>
<text text-anchor="end" transform="translate(574.7,95.39) scale(0.87,1)">91.9</text>
<text text-anchor="end" transform="translate(574.7,104.06) scale(0.87,1)">105.03</text>
<text text-anchor="end" transform="translate(574.7,112.73) scale(0.87,1)">118.16</text>
<text text-anchor="middle" transform="translate(628.4,5.2) scale(0.87,1)">Count</text>
<text text-anchor="middle" transform="translate(560.2,71.4) rotate(-90) scale(1,0.87)">Value</text>
</g>
<text font-size="7.6" font-weight="bold" fill="#222" text-anchor="middle" transform="translate(678.6,71.3) rotate(90) scale(1,0.87)">Color Key/Histogram</text>
</svg>
</body></html>
